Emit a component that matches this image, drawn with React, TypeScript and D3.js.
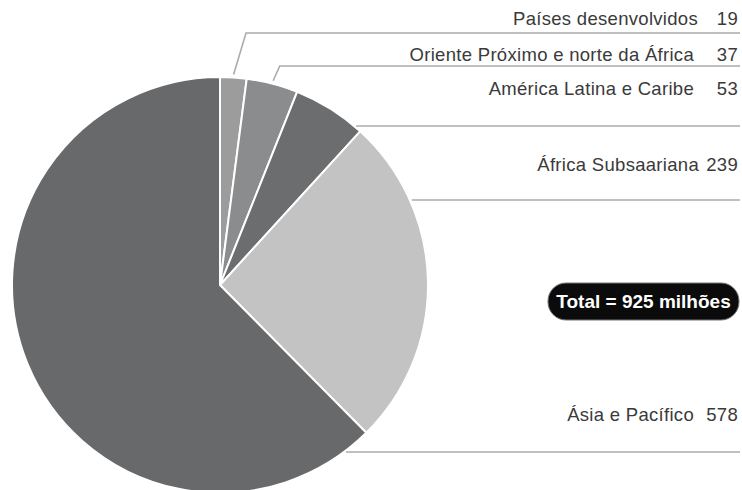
import { useEffect, useRef } from "react";
import * as d3 from "d3";

const regions = [
  "Países desenvolvidos",
  "Oriente Próximo e norte da África",
  "América Latina e Caribe",
  "África Subsaariana",
  "Ásia e Pacífico",
];
const values = [19, 37, 53, 239, 578];
const colors = ["#9c9c9c", "#8b8c8e", "#6c6d6f", "#c3c3c3", "#68696b"];
const totalLabel = "Total = 925 milhões";

interface Datum {
  name: string;
  value: number;
  color: string;
}

export const App = () => {
  const chartRef = useRef<HTMLDivElement>(null);
  const width = 742;
  const height = 490;

  useEffect(() => {
    d3.select(chartRef.current).select("svg").remove();

    const svg = d3
      .select(chartRef.current)
      .append("svg")
      .attr("width", width)
      .attr("height", height)
      .style("display", "block")
      .style("font-family", "'Liberation Sans', Arial, sans-serif");

    const cx = 220;
    const cy = 285;
    const radius = 208;
    const data: Datum[] = regions.map((name, i) => ({ name, value: values[i], color: colors[i] }));

    const pie = d3.pie<Datum>().sort(null).value((d) => d.value);
    const arc = d3.arc<d3.PieArcDatum<Datum>>().innerRadius(0).outerRadius(radius);
    const arcs = pie(data);

    const g = svg.append("g").attr("transform", `translate(${cx},${cy})`);
    g.selectAll("path")
      .data(arcs)
      .enter()
      .append("path")
      .attr("d", (d) => arc(d) as string)
      .attr("fill", (d) => d.data.color)
      .attr("stroke", "#fff")
      .attr("stroke-width", 2);

    // label rows: text baseline and leader line y
    const textY = [25, 61, 95, 171, 421];
    const lineY = [33, 66, 126, 200, 452];
    const labelEnd = [698, 694, 694, 699, 694];
    const lineEnd = 740;
    const stroke = "#a9abad";

    arcs.forEach((a, i) => {
      const y = lineY[i];
      let path: string;
      if (i < 2) {
        // diagonal from the slice edge up to the line level
        const mid = (a.startAngle + a.endAngle) / 2;
        const sx = cx + Math.sin(mid) * (radius + 3);
        const sy = cy - Math.cos(mid) * (radius + 3);
        const ex = sx + (sy - y) * (i === 0 ? 0.3 : 0.45);
        path = `M${sx},${sy}L${ex},${y}L${lineEnd},${y}`;
      } else {
        const dy = y - cy;
        const sx = cx + Math.sqrt(radius * radius - dy * dy) + 2;
        path = `M${sx},${y}L${lineEnd},${y}`;
      }
      svg
        .append("path")
        .attr("d", path)
        .attr("fill", "none")
        .attr("stroke", stroke)
        .attr("stroke-width", 1.6);

      svg
        .append("text")
        .attr("x", labelEnd[i])
        .attr("y", textY[i])
        .attr("text-anchor", "end")
        .attr("font-size", 18.5)
        .attr("letter-spacing", 0.3)
        .attr("fill", "#3a3a3a")
        .text(a.data.name);
      svg
        .append("text")
        .attr("x", 738)
        .attr("y", textY[i])
        .attr("text-anchor", "end")
        .attr("font-size", 18.5)
        .attr("letter-spacing", 0.3)
        .attr("fill", "#3a3a3a")
        .text(String(a.data.value));
    });

    // total badge
    const bx = 548;
    const by = 283;
    svg
      .append("rect")
      .attr("x", bx)
      .attr("y", by)
      .attr("width", 191)
      .attr("height", 37)
      .attr("rx", 18)
      .attr("fill", "#0b0b0b")
      .attr("stroke", "#777")
      .attr("stroke-width", 1);
    svg
      .append("text")
      .attr("x", bx + 95.5)
      .attr("y", by + 25)
      .attr("text-anchor", "middle")
      .attr("font-size", 19)
      .attr("font-weight", "bold")
      .attr("fill", "#fff")
      .text(totalLabel);
  }, []);

  return <div ref={chartRef} style={{ position: "absolute", left: 0, top: 0 }} />;
};

export default App;
